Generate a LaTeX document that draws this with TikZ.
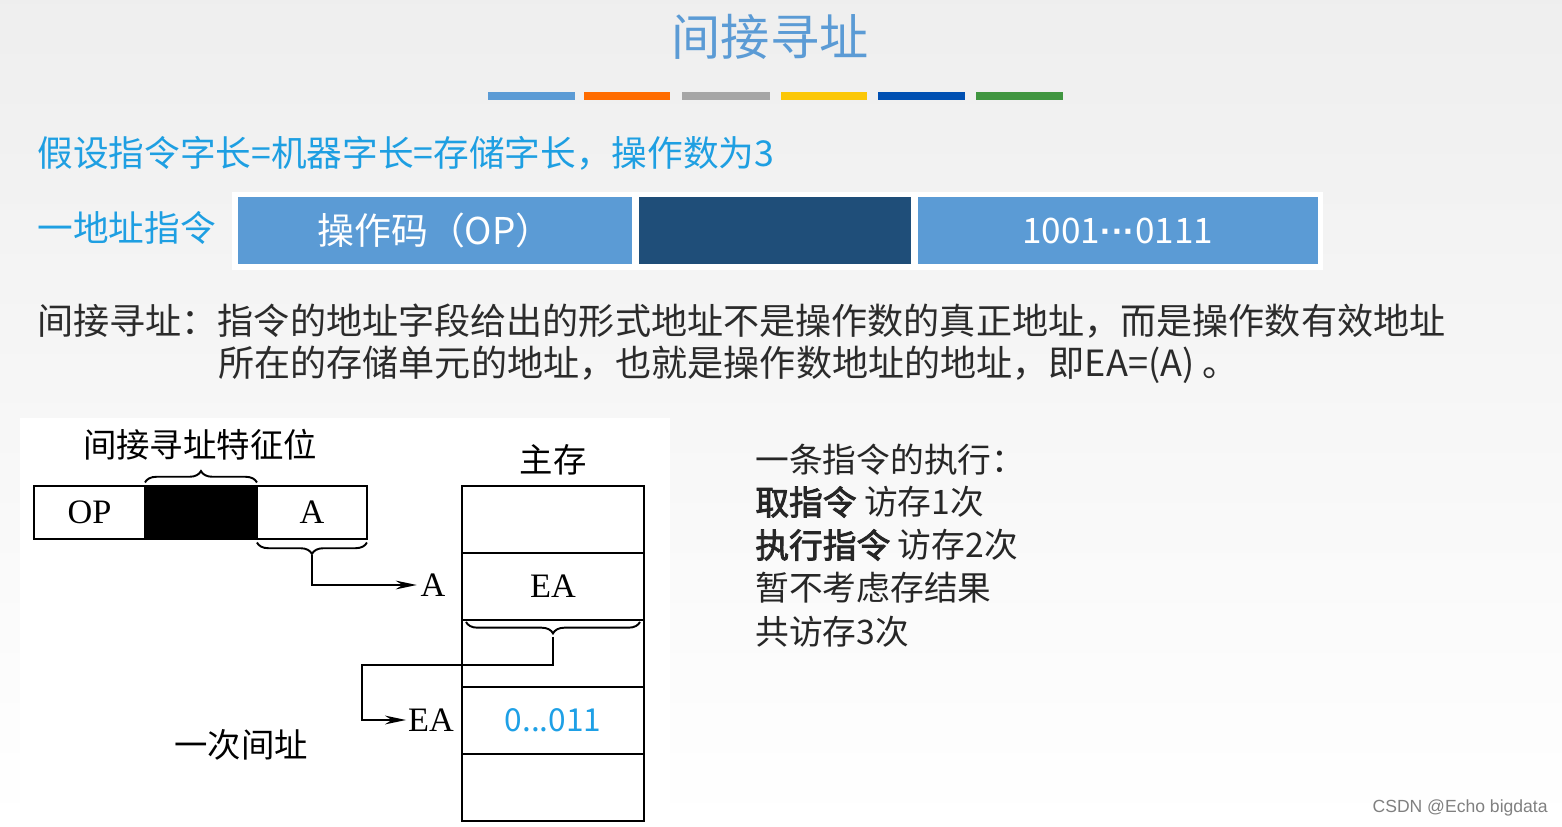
\documentclass[tikz,border=0pt]{standalone}
\usepackage{fontspec}
\setmainfont{Liberation Serif}
\newfontfamily\cjk{Noto Sans CJK SC}[AutoFakeBold=2.5]
\newfontfamily\wmfont{Liberation Sans}
\usepackage{xcolor}
\usepackage{tikz}
\usetikzlibrary{positioning, arrows.meta, decorations.pathreplacing, calc}

\definecolor{titleblue}{HTML}{5B9BD5}
\definecolor{headblue}{HTML}{1E9FE2}
\definecolor{barblue}{HTML}{5B9BD5}
\definecolor{bardark}{HTML}{1F4E79}
\definecolor{textgray}{HTML}{2B2B2B}
\definecolor{valblue}{HTML}{1EA0E6}

\begin{document}
\begin{tikzpicture}[
			x=0.02cm, y=-0.02cm,
			head/.style={anchor=west, inner sep=0pt, text=headblue, font=\cjk\fontsize{20.3pt}{24pt}\selectfont},
			body/.style={anchor=west, inner sep=0pt, text=textgray, font=\cjk\fontsize{20.55pt}{25pt}\selectfont},
			note/.style={anchor=west, inner sep=0pt, text=black!85, font=\cjk\fontsize{19.2pt}{22pt}\selectfont},
			field/.style={minimum height=1.34cm, inner sep=0pt, outer sep=0pt, text=white, font=\cjk\fontsize{21pt}{25pt}\selectfont},
			part/.style={draw, line width=1.1pt, minimum width=2.22cm, minimum height=1.06cm, inner sep=0pt, outer sep=0pt, font=\fontsize{19.5pt}{22pt}\selectfont},
			cell/.style={draw, line width=1.1pt, minimum width=3.64cm, minimum height=1.34cm, inner sep=0pt, outer sep=0pt, font=\fontsize{19.5pt}{22pt}\selectfont},
			label/.style={inner sep=1pt, font=\cjk\fontsize{19pt}{22pt}\selectfont},
			brace/.style={decorate, decoration={brace, amplitude=6.5pt}, line width=1.1pt},
			arrow/.style={line width=1.1pt, -{Stealth[length=12pt, width=5pt]}}
			]
			
			% Background
			\useasboundingbox (0,0) rectangle (1562,827);
			\shade[top color=gray!13, bottom color=white] (0,0) rectangle (1562,827);
			\fill[white] (20,418) rectangle (670,827);
			
			% Title and bars
			\node[text=titleblue, font=\cjk\fontsize{28pt}{32pt}\selectfont] (title) at (770,37) {间接寻址};
			\fill[barblue] (488,92) rectangle (575,100);
			\fill[orange!85!red] (584,92) rectangle (670,100);
			\fill[gray!70] (682,92) rectangle (770,100);
			\fill[yellow!60!orange] (781,92) rectangle (867,100);
			\fill[blue!55!cyan!70!black] (878,92) rectangle (965,100);
			\fill[green!45!black!75] (976,92) rectangle (1063,100);
			
			% Assumption and instruction format
			\node[head] (hyp) at (37,153) {假设指令字长=机器字长=存储字长，操作数为3};
			\node[head] (oneaddr) at (37,228) {一地址指令};
			\fill[white] (232,192) rectangle (1323,270);
			\node[field, fill=barblue, minimum width=7.88cm] (opfield) at (435,230.5) {操作码（OP）};
			\node[field, fill=bardark, minimum width=5.44cm, right=0.14cm of opfield] (modefield) {};
			\node[field, fill=barblue, minimum width=8cm, right=0.14cm of modefield, font=\cjk\fontsize{20pt}{24pt}\selectfont] (addrfield) {1001{\wmfont\bfseries ···}0111};
			
			% Definition
			\node[body] (def1) at (37,321) {间接寻址：指令的地址字段给出的形式地址不是操作数的真正地址，而是操作数有效地址};
			\node[body] (def2) at (218,365) {所在的存储单元的地址，也就是操作数地址的地址，即EA=(A) 。};
			
			% Instruction
			\node[part] (op) at (89.5,512.5) {OP};
			\node[part, fill=black, minimum width=2.24cm, right=0pt of op] (ind) {};
			\node[part, minimum width=2.2cm, right=0pt of ind] (addr) {A};
			\node[label] (indlab) at (200,445) {间接寻址特征位};
			\draw[brace] ([yshift=2pt]ind.north west) -- ([yshift=2pt]ind.north east);
			\draw[brace] ([yshift=-2pt]addr.south east) -- ([yshift=-2pt]addr.south west);
			
			% Main memory
			\node[label] (memlab) at (553,460) {主存};
			\node[cell] (cell1) at (553,519.5) {};
			\node[cell, below=0pt of cell1] (cell2) {EA};
			\node[cell, below=0pt of cell2] (cell3) {};
			\node[cell, below=0pt of cell3, text=valblue, font=\cjk\fontsize{18pt}{22pt}\selectfont] (cell4) {0...011};
			\node[cell, below=0pt of cell4] (cell5) {};
			\draw[brace] ($(cell2.south east)+(-4,2)$) -- ($(cell2.south west)+(4,2)$);
			
			% Addresses
			\node[inner sep=2pt, font=\fontsize{19.5pt}{22pt}\selectfont] (alab) at (433,585) {A};
			\node[inner sep=1pt, font=\fontsize{19.5pt}{22pt}\selectfont] (ealab) at (431,720) {EA};
			\node[label] (once) at (241,745) {一次间址};
			
			% Arrows
			\coordinate (atip) at ($(addr.south)+(0,16)$);
			\coordinate (etip) at ($(cell2.south)+(0,17)$);
			\coordinate (bend) at (362,665);
			\draw[arrow] (atip) |- (alab.west);
			\draw[arrow] (etip) |- (bend) |- (ealab.west);
			
			% Execution notes
			\node[note] (exec) at (755,460) {一条指令的执行：};
			\node[note] (fetch) at (755,502) {{\bfseries 取指令} 访存1次};
			\node[note] (run) at (755,545) {{\bfseries 执行指令} 访存2次};
			\node[note] (skip) at (755,588) {暂不考虑存结果};
			\node[note] (total) at (755,632) {共访存3次};
			
			\node[anchor=east, inner sep=0pt, text=gray, font=\wmfont\fontsize{10pt}{12pt}\selectfont] (mark) at (1548,808) {CSDN @Echo bigdata};
			
		\end{tikzpicture}
\end{document}
